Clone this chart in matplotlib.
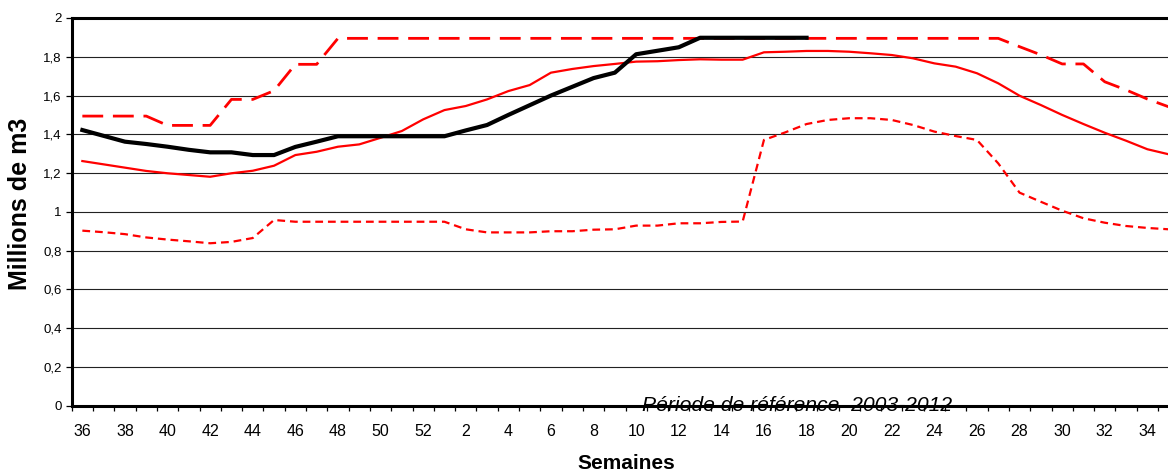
import matplotlib
matplotlib.use("Agg")
import matplotlib.pyplot as plt
import numpy as np

# ---------------- data ----------------
weeks = list(range(36, 53)) + list(range(1, 36))

current = [1.422, 1.392, 1.362, 1.350, 1.336, 1.320, 1.307, 1.307, 1.293, 1.293,
           1.335, 1.362, 1.390, 1.390, 1.390, 1.390, 1.390,
           1.390, 1.420, 1.448, 1.500, 1.550, 1.600, 1.645, 1.690, 1.718,
           1.813, 1.831, 1.849, 1.898, 1.898, 1.898, 1.898, 1.898, 1.898]

maximum = [1.494, 1.494, 1.494, 1.494, 1.446, 1.446, 1.446, 1.580, 1.580, 1.625,
           1.761, 1.761, 1.895, 1.895, 1.895, 1.895, 1.895,
           1.895, 1.895, 1.895, 1.895, 1.895, 1.895, 1.895, 1.895, 1.895,
           1.895, 1.895, 1.895, 1.895, 1.895, 1.895, 1.895, 1.895, 1.895,
           1.895, 1.895, 1.895, 1.895, 1.895, 1.895, 1.895, 1.895, 1.895,
           1.852, 1.810, 1.763, 1.763, 1.671, 1.629, 1.582, 1.542]

mean = [1.262, 1.245, 1.228, 1.211, 1.199, 1.190, 1.181, 1.199, 1.212, 1.238,
        1.293, 1.310, 1.336, 1.348, 1.382, 1.417, 1.477,
        1.525, 1.546, 1.580, 1.623, 1.654, 1.718, 1.737, 1.752, 1.763,
        1.775, 1.777, 1.783, 1.787, 1.785, 1.785, 1.823, 1.826, 1.830,
        1.830, 1.826, 1.818, 1.809, 1.792, 1.766, 1.749, 1.715, 1.663,
        1.599, 1.551, 1.500, 1.453, 1.408, 1.367, 1.323, 1.297]

minimum = [0.903, 0.895, 0.885, 0.868, 0.857, 0.848, 0.838, 0.845, 0.865, 0.958,
           0.949, 0.949, 0.949, 0.949, 0.949, 0.949, 0.949,
           0.949, 0.910, 0.894, 0.894, 0.894, 0.900, 0.900, 0.908, 0.910,
           0.929, 0.929, 0.941, 0.941, 0.948, 0.950, 1.371, 1.410, 1.453,
           1.474, 1.483, 1.483, 1.474, 1.448, 1.414, 1.391, 1.371, 1.250,
           1.099, 1.052, 1.006, 0.967, 0.944, 0.927, 0.917, 0.910]

y_ticks = [0, 0.2, 0.4, 0.6, 0.8, 1, 1.2, 1.4, 1.6, 1.8, 2]
y_tick_labels = ["0", "0,2", "0,4", "0,6", "0,8", "1", "1,2", "1,4", "1,6", "1,8", "2"]

# ---------------- figure ----------------
plt.rcParams['font.family'] = ['Liberation Sans', 'DejaVu Sans']
W, H = 1168, 472
fig = plt.figure(figsize=(W / 100, H / 100), dpi=100)
ax = fig.add_axes([71.7 / W, 66.3 / H, 1107.6 / W, 387.7 / H])

x = np.arange(len(weeks))
red = '#ff0000'
ax.plot(x, maximum, color=red, lw=2.0, dashes=(7.5, 3.5), zorder=3)
ax.plot(x, mean, color=red, lw=1.6, zorder=3)
ax.plot(x, minimum, color=red, lw=1.6, dashes=(3.5, 2.2), zorder=3)
ax.plot(x[:len(current)], current, color='black', lw=3.0, zorder=4,
        solid_joinstyle='round')

ax.set_xlim(-0.5, len(weeks) - 0.5)
ax.set_ylim(0, 2)

# gridlines
ax.set_yticks(y_ticks)
ax.set_yticklabels(y_tick_labels, fontsize=9.5)
ax.yaxis.grid(True, color='#222222', lw=0.8)
ax.set_axisbelow(True)

# x ticks: labels on even categories, tick marks between categories
major = x[::2]
ax.set_xticks(major)
ax.set_xticklabels([str(weeks[i]) for i in major], fontsize=11.5)
ax.set_xticks(np.arange(-0.5, len(weeks)), minor=True)
ax.tick_params(axis='x', which='major', length=0, pad=13)
ax.tick_params(axis='x', which='minor', length=3.6, width=0.9, direction='out')
ax.tick_params(axis='y', length=4.3, width=0.9, direction='out', pad=2.8)

for s in ['left', 'top', 'bottom']:
    ax.spines[s].set_linewidth(2.2)
    ax.spines[s].set_color('black')
ax.spines['right'].set_visible(False)

ax.text(26.29, -0.027, "Période de référence  2003-2012", fontsize=15.2,
        style='italic', ha='left', va='baseline', clip_on=False, zorder=1)

fig.text(20.5 / W, (H - 204) / H, "Millions de m3", rotation=90, fontsize=18,
         fontweight='bold', ha='center', va='center')
fig.text(626 / W, 3 / H, "Semaines", fontsize=15, fontweight='bold',
         ha='center', va='baseline')

fig.savefig("out.png", dpi=100)
